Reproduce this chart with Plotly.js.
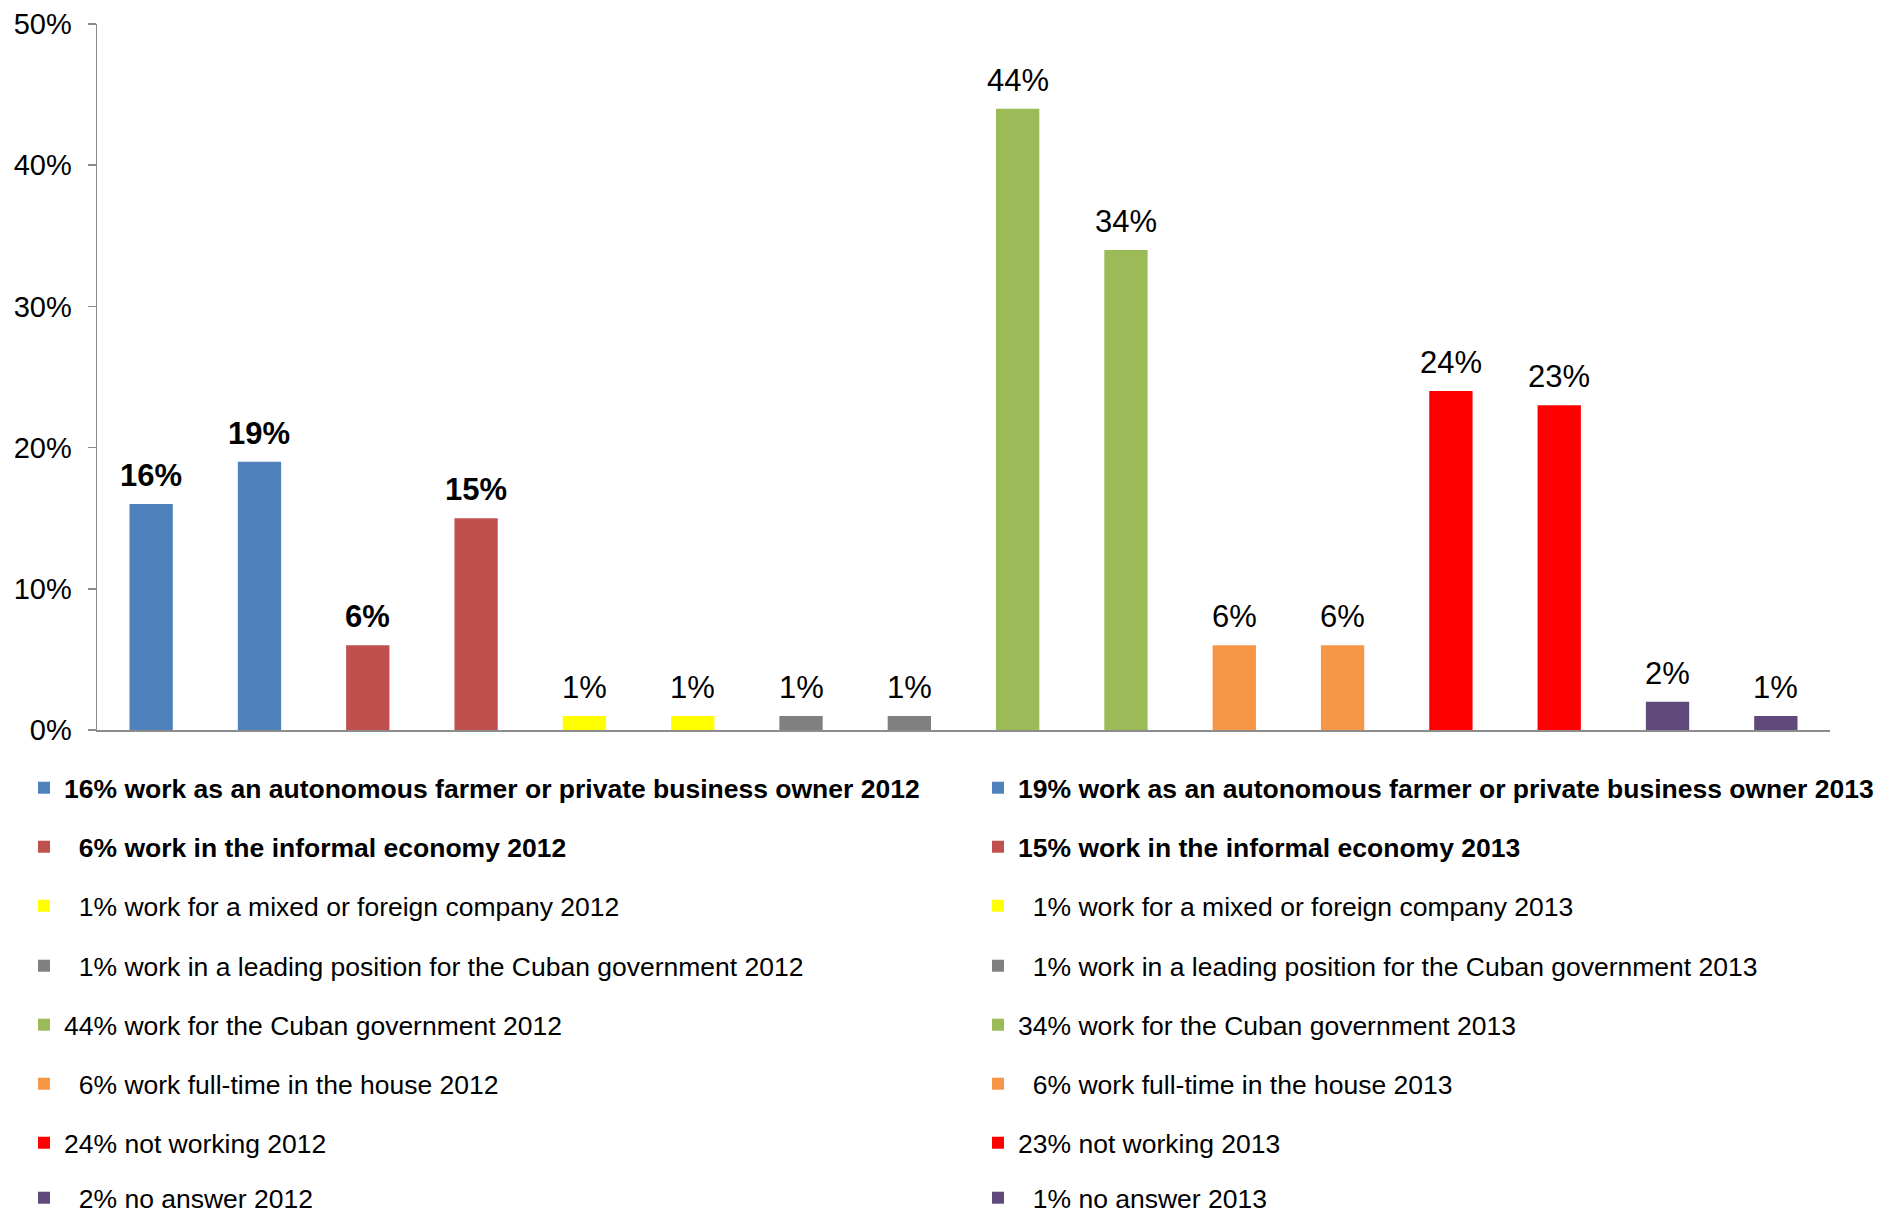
<!DOCTYPE html>
<html>
<head>
<meta charset="utf-8">
<script src="https://cdn.plot.ly/plotly-3.0.1.min.js"></script>
<style>html,body{margin:0;padding:0;background:#fff;}#chart{width:1895px;height:1214px;}</style>
</head>
<body>
<div id="chart"></div>
<script>
// ---- data ----
const categories = [
  "16% work as an autonomous farmer or private business owner 2012",
  "19% work as an autonomous farmer or private business owner 2013",
  "6% work in the informal economy 2012",
  "15% work in the informal economy 2013",
  "1% work for a mixed or foreign company 2012",
  "1% work for a mixed or foreign company 2013",
  "1% work in a leading position for the Cuban government 2012",
  "1% work in a leading position for the Cuban government 2013",
  "44% work for the Cuban government 2012",
  "34% work for the Cuban government 2013",
  "6% work full-time in the house 2012",
  "6% work full-time in the house 2013",
  "24% not working 2012",
  "23% not working 2013",
  "2% no answer 2012",
  "1% no answer 2013"
];
const values = [16, 19, 6, 15, 1, 1, 1, 1, 44, 34, 6, 6, 24, 23, 2, 1];
const valueLabels = ["16%", "19%", "6%", "15%", "1%", "1%", "1%", "1%", "44%", "34%", "6%", "6%", "24%", "23%", "2%", "1%"];
const boldItems = [true, true, true, true, false, false, false, false, false, false, false, false, false, false, false, false];
const colors = ["#4F81BD", "#4F81BD", "#C0504D", "#C0504D", "#FFFF00", "#FFFF00", "#808080", "#808080",
                "#9BBB59", "#9BBB59", "#F79646", "#F79646", "#FF0000", "#FF0000", "#604A7B", "#604A7B"];
const yTickVals = [0, 10, 20, 30, 40, 50];
const yTickText = ["0%", "10%", "20%", "30%", "40%", "50%"];

// ---- layout constants ----
const W = 1895, H = 1214;
const M = {l: 97, r: 65, t: 24, b: 484, autoexpand: false};
const plotW = W - M.l - M.r, plotH = H - M.t - M.b;
const FONT = "Liberation Sans, Arial, sans-serif";
const rowY = [788, 847, 906, 966, 1025, 1084, 1143, 1198];
const colTextX = [64, 1018];

function legendName(i) {
  let t = categories[i];
  if (/^\d%/.test(t)) t = "\u00a0\u00a0" + t;
  return boldItems[i] ? "<b>" + t + "</b>" : t;
}

const traces = categories.map((c, i) => ({
  type: "bar",
  x: [c],
  y: [values[i]],
  name: legendName(i),
  width: 0.4,
  marker: {color: colors[i], line: {width: 0}},
  legend: i === 0 ? "legend" : "legend" + (i + 1),
  hoverinfo: "skip",
  showlegend: true
}));

const layout = {
  width: W, height: H,
  margin: M,
  paper_bgcolor: "#fff", plot_bgcolor: "#fff",
  barmode: "overlay",
  font: {family: FONT, color: "#000"},
  xaxis: {
    type: "category",
    categoryorder: "array", categoryarray: categories,
    range: [-0.5, 15.5],
    showticklabels: false, ticks: "",
    showgrid: false, zeroline: false,
    showline: true, linecolor: "#8c8c8c", linewidth: 1.5,
    fixedrange: true
  },
  yaxis: {
    range: [0, 50],
    tickvals: yTickVals, ticktext: yTickText,
    ticks: "outside", ticklen: 8, tickwidth: 1.5, tickcolor: "#8c8c8c",
    ticklabelstandoff: 10,
    showgrid: false, zeroline: false,
    showline: true, linecolor: "#8c8c8c", linewidth: 1.5,
    tickfont: {family: FONT, size: 29, color: "#000"},
    fixedrange: true
  },
  annotations: categories.map((c, i) => ({
    x: c, y: values[i], xref: "x", yref: "y",
    text: boldItems[i] ? "<b>" + valueLabels[i] + "</b>" : valueLabels[i],
    showarrow: false, yanchor: "bottom", xanchor: "center",
    yshift: 9,
    font: {family: FONT, size: 31, color: "#000"}
  })),
  showlegend: true
};

categories.forEach((c, i) => {
  const key = i === 0 ? "legend" : "legend" + (i + 1);
  const col = i % 2, row = Math.floor(i / 2);
  const boxLeft = colTextX[col] - 40;
  layout[key] = {
    x: (boxLeft - M.l) / plotW,
    y: (H - M.b - rowY[row]) / plotH,
    xanchor: "left", yanchor: "middle",
    orientation: "v",
    bgcolor: "rgba(0,0,0,0)", borderwidth: 0,
    font: {family: FONT, size: 26.5, color: "#000"}
  };
});

Plotly.newPlot("chart", traces, layout, {displayModeBar: false, staticPlot: true});
</script>
</body>
</html>
